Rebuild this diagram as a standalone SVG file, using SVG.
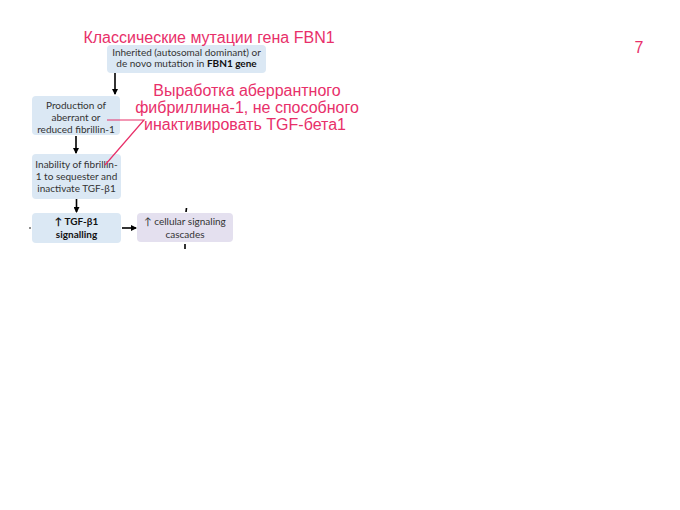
<svg xmlns="http://www.w3.org/2000/svg" width="680" height="510" viewBox="0 0 680 510">
<defs>
<marker id="ah" markerWidth="6" markerHeight="6" refX="5" refY="3" orient="auto" markerUnits="userSpaceOnUse">
<path d="M0,0 L6,3 L0,6 Z" fill="#000"/>
</marker>
<style>
.box{fill:#dbe8f4;}
.box2{fill:#e4e0ef;}
.t{font-family:Lato,"Liberation Sans",sans-serif;font-size:10px;fill:#333;text-anchor:middle;}
.b{font-weight:bold;fill:#111;}
.pk{font-family:"Liberation Sans",Arial,sans-serif;font-size:16px;fill:#e8306a;}
.con{stroke:#000;stroke-width:1.6;fill:none;}
.pl{stroke:#e8306a;stroke-width:1.2;fill:none;}
</style>
</defs>
<rect width="680" height="510" fill="#fff"/>

<g id="n1">
<rect class="box" x="107" y="45" width="159" height="28" rx="4"/>
<text class="t" x="186.5" y="55.5">Inherited (autosomal dominant) or</text>
<text class="t" x="186.5" y="67">de novo mutation in <tspan class="b">FBN1 gene</tspan></text>
</g>
<g id="n2">
<rect class="box" x="32" y="96" width="88" height="39" rx="4"/>
<text class="t" x="76" y="108.5">Production of</text>
<text class="t" x="76" y="121">aberrant or</text>
<text class="t" x="76" y="133">reduced fibrillin-1</text>
</g>
<g id="n3">
<rect class="box" x="32" y="154" width="89" height="45" rx="4"/>
<text class="t" x="76.5" y="167.5">Inability of fibrillin-</text>
<text class="t" x="76.5" y="179.5">1 to sequester and</text>
<text class="t" x="76.5" y="191.5">inactivate TGF-β1</text>
</g>
<g id="n4">
<rect class="box" x="32" y="213" width="89" height="30" rx="4"/>
<text class="t b" x="76.5" y="225">↑ TGF-β1</text>
<text class="t b" x="76.5" y="237.5">signalling</text>
</g>
<g id="n5">
<rect class="box2" x="137" y="213" width="96" height="29" rx="4"/>
<text class="t" x="185" y="225">↑ cellular signaling</text>
<text class="t" x="185" y="237.5">cascades</text>
</g>

<g id="connectors">
<line class="con" x1="115" y1="73" x2="115" y2="94" marker-end="url(#ah)"/>
<line class="con" x1="76" y1="136" x2="76" y2="153" marker-end="url(#ah)"/>
<line class="con" x1="76.5" y1="199" x2="76.5" y2="212" marker-end="url(#ah)"/>
<line class="con" x1="122" y1="228" x2="136" y2="228" marker-end="url(#ah)"/>
<line class="con" x1="186.5" y1="208" x2="186" y2="212"/>
<line class="con" x1="185" y1="244" x2="185" y2="249"/>
<circle cx="30" cy="228" r="0.8" fill="#000"/>
<polyline class="pl" points="107,120 144,120 105,165"/>
</g>

<text class="pk" x="209" y="43" text-anchor="middle">Классические мутации гена FBN1</text>
<text class="pk" x="247" y="96" text-anchor="middle">Выработка аберрантного</text>
<text class="pk" x="247" y="113" text-anchor="middle">фибриллина-1, не способного</text>
<text class="pk" x="245" y="130" text-anchor="middle">инактивировать TGF-бета1</text>
<text class="pk" x="639" y="53" text-anchor="middle">7</text>
</svg>
